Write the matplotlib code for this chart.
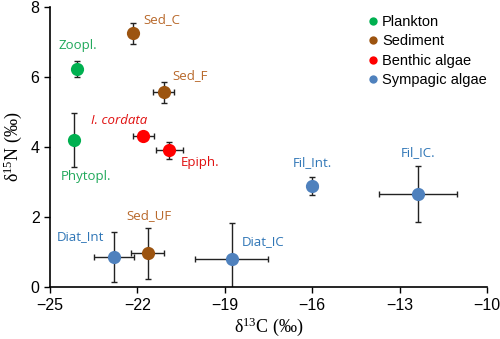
import matplotlib
matplotlib.use("Agg")
import matplotlib.pyplot as plt
from matplotlib.lines import Line2D

# stable isotope data (d13C, d15N) with standard deviations
names = ["Zoopl.", "Phytopl.", "Sed_C", "Sed_F", "Sed_UF",
         "I. cordata", "Epiph.", "Diat_Int", "Diat_IC", "Fil_Int.", "Fil_IC."]
groups = ["Plankton", "Plankton", "Sediment", "Sediment", "Sediment",
          "Benthic algae", "Benthic algae", "Sympagic algae", "Sympagic algae",
          "Sympagic algae", "Sympagic algae"]
d13c = [-24.08, -24.18, -22.16, -21.1, -21.65, -21.8, -20.9, -22.8, -18.77, -16.0, -12.37]
d15n = [6.23, 4.2, 7.26, 5.57, 0.97, 4.32, 3.91, 0.86, 0.8, 2.89, 2.65]
sd_c = [0.0, 0.0, 0.0, 0.35, 0.56, 0.36, 0.46, 0.68, 1.26, 0.15, 1.35]
sd_n = [0.23, 0.77, 0.3, 0.3, 0.73, 0.0, 0.24, 0.71, 1.03, 0.26, 0.8]

group_order = ["Plankton", "Sediment", "Benthic algae", "Sympagic algae"]
marker_col = {"Plankton": "#00B050", "Sediment": "#9C5410",
              "Benthic algae": "#FF0000", "Sympagic algae": "#4F81BD"}
label_col = {"Plankton": "#1FA85A", "Sediment": "#B8682A",
             "Benthic algae": "#E01010", "Sympagic algae": "#2E75B6"}

# label offsets in points
offsets = {"Zoopl.": (1, 17), "Phytopl.": (9, -26), "Sed_C": (21, 10),
           "Sed_F": (19, 12), "Sed_UF": (1, 27), "I. cordata": (-17, 11),
           "Epiph.": (22, -9), "Diat_Int": (-24, 15), "Diat_IC": (23, 13),
           "Fil_Int.": (0, 17), "Fil_IC.": (0, 30)}

fig = plt.figure(figsize=(5, 3.39), dpi=100)
ax = fig.add_axes([0.1, 0.153, 0.874, 0.826])

for i, nm in enumerate(names):
    g = groups[i]
    ax.errorbar(d13c[i], d15n[i],
                xerr=sd_c[i] if sd_c[i] > 0 else None,
                yerr=sd_n[i] if sd_n[i] > 0 else None,
                fmt="none", ecolor="#222222", elinewidth=1.0, capsize=2.5,
                capthick=1.0, zorder=2)
    ax.plot(d13c[i], d15n[i], "o", color=marker_col[g], markersize=9.5,
            markeredgewidth=0, zorder=3)
    ax.annotate(nm, (d13c[i], d15n[i]), xytext=offsets[nm],
                textcoords="offset points", ha="center", va="center",
                color=label_col[g], fontsize=9.5, family="Open Sans",
                style="italic" if nm == "I. cordata" else "normal")

handles = [Line2D([], [], marker="o", linestyle="none", color=marker_col[g],
                  markersize=6, markeredgewidth=0) for g in group_order]
ax.legend(handles, group_order, loc="upper right", bbox_to_anchor=(1.03, 1.02),
          frameon=False, handletextpad=0.1, labelspacing=0.38, handlelength=1.0,
          prop={"family": "Liberation Sans", "size": 10.5})

ax.set_xlim(-25, -10)
ax.set_ylim(0, 8)
ax.set_xticks([-25, -22, -19, -16, -13, -10])
ax.set_yticks([0, 2, 4, 6, 8])
for lab in ax.get_xticklabels() + ax.get_yticklabels():
    lab.set_family("Liberation Sans")
    lab.set_fontsize(11.5)
ax.tick_params(direction="out", length=4, width=1)
for s in ["top", "right"]:
    ax.spines[s].set_visible(False)
for s in ["left", "bottom"]:
    ax.spines[s].set_linewidth(1.2)

ax.set_xlabel(r"$\mathregular{\delta^{13}}$C (‰)", family="Liberation Serif",
              fontsize=13, labelpad=2)
ax.set_ylabel(r"$\mathregular{\delta^{15}}$N (‰)", family="Liberation Serif",
              fontsize=13, labelpad=5)

fig.savefig("out.png", dpi=100)
